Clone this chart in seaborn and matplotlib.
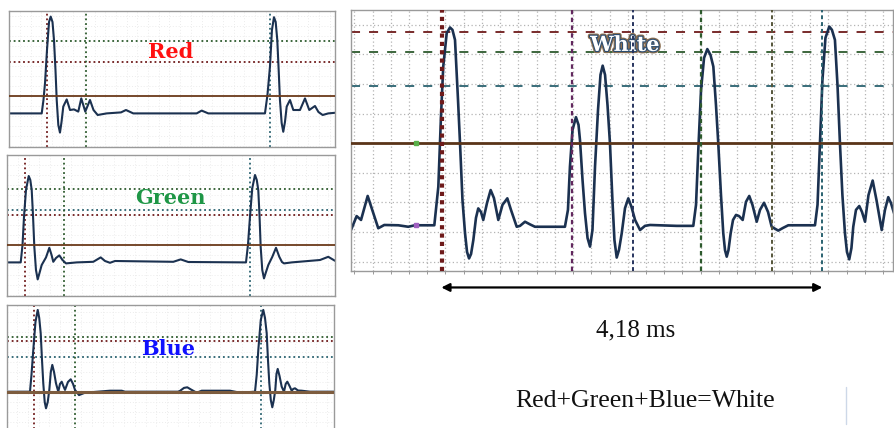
import numpy as np
import pandas as pd
import matplotlib
matplotlib.use("Agg")
import matplotlib.pyplot as plt
import matplotlib.patheffects as pe
from matplotlib.lines import Line2D
import seaborn as sns

sns.set_style("white")

# ---------------- data (time in ms, amplitude in divisions) ----------------
red_t = [0.0, 0.607, 0.640, 0.669, 0.706, 0.744, 0.775, 0.809, 0.837, 0.865, 0.888, 0.918, 0.949,
         0.978, 1.011, 1.075, 1.137, 1.212, 1.292, 1.348, 1.423, 1.511, 1.577, 1.655, 1.824, 2.092,
         2.185, 2.322, 3.509, 3.603, 3.727, 4.788, 4.835, 4.882, 4.919, 4.957, 4.989, 5.019, 5.045,
         5.069, 5.101, 5.131, 5.163, 5.195, 5.257, 5.319, 5.444, 5.538, 5.618, 5.725, 5.790, 5.869,
         5.974, 6.099]
red_a = [-0.87, -0.87, -0.20, 0.65, 2.30, 3.70, 3.97, 3.70, 2.80, 1.30, -0.20, -1.45, -1.83,
         -1.30, -0.53, -0.17, -0.70, -0.67, -0.78, -0.12, -0.78, -0.20, -0.70, -0.95, -0.87, -0.82,
         -0.70, -0.87, -0.87, -0.73, -0.87, -0.87, 0.05, 1.47, 3.30, 3.94, 3.70, 2.80, 1.30,
         -0.20, -1.35, -1.79, -1.30, -0.53, -0.20, -0.70, -0.70, -0.12, -0.70, -0.50, -0.80, -0.95,
         -0.87, -0.84]

green_t = [0.0, 0.251, 0.285, 0.313, 0.350, 0.401, 0.431, 0.457, 0.481, 0.506, 0.537, 0.569, 0.603,
           0.644, 0.725, 0.787, 0.829, 0.861, 0.912, 0.974, 1.034, 1.099, 1.300, 1.610, 1.749, 1.830,
           1.923, 2.017, 3.109, 3.247, 3.390, 4.470, 4.507, 4.545, 4.588, 4.639, 4.672, 4.700, 4.723,
           4.745, 4.775, 4.807, 4.845, 4.888, 4.963, 5.032, 5.094, 5.144, 5.182, 5.326, 5.856, 6.011,
           6.137]
green_a = [-0.87, -0.87, 0.0, 1.42, 2.75, 3.45, 3.25, 2.75, 1.50, -0.09, -1.25, -1.72, -1.40,
           -1.00, -0.62, -0.14, -0.50, -0.84, -0.65, -0.52, -0.75, -0.92, -0.87, -0.84, -0.62, -0.80,
           -0.89, -0.80, -0.84, -0.72, -0.85, -0.87, 0.0, 1.42, 2.85, 3.50, 3.25, 2.75, 1.50,
           -0.09, -1.25, -1.67, -1.35, -1.00, -0.59, -0.14, -0.59, -0.85, -0.92, -0.87, -0.75, -0.59,
           -0.79]

blue_t = [0.0, 0.436, 0.464, 0.498, 0.539, 0.581, 0.609, 0.637, 0.661, 0.685, 0.712, 0.736, 0.768,
          0.798, 0.826, 0.854, 0.886, 0.923, 0.966, 0.998, 1.030, 1.060, 1.092, 1.148, 1.199, 1.242,
          1.279, 1.354, 1.466, 1.934, 2.154, 2.215, 3.208, 3.245, 3.320, 3.382, 3.451, 3.558, 3.652,
          4.182, 4.369, 4.650, 4.682, 4.712, 4.758, 4.805, 4.837, 4.869, 4.893, 4.918, 4.946, 4.974,
          5.002, 5.030, 5.052, 5.075, 5.109, 5.150, 5.193, 5.225, 5.255, 5.296, 5.337, 5.367, 5.399,
          5.455, 5.524, 5.680, 6.135]
blue_a = [0.0, 0.0, 0.84, 2.09, 3.49, 4.09, 3.69, 2.92, 1.59, 0.42, -0.52, -0.83, -0.52,
          0.09, 0.99, 1.34, 0.99, 0.42, 0.0, 0.39, 0.50, 0.29, 0.09, 0.49, 0.62, 0.39,
          0.09, -0.17, -0.05, 0.05, 0.05, 0.0, 0.0, 0.04, 0.19, 0.22, 0.11, -0.05, 0.05,
          0.05, -0.05, 0.0, 0.84, 2.09, 3.59, 4.09, 3.69, 2.92, 1.59, 0.42, -0.42, -0.78,
          -0.42, 0.09, 0.89, 1.14, 0.79, 0.25, 0.0, 0.39, 0.50, 0.29, 0.05, 0.14, 0.17,
          0.06, 0.05, 0.0, 0.0]

white_t = [-0.036, 0.026, 0.074, 0.147, 0.208, 0.263, 0.329, 0.483, 0.592, 0.666, 0.878, 0.922, 0.951,
           0.976, 1.014, 1.050, 1.077, 1.105, 1.138, 1.160, 1.187, 1.215, 1.237, 1.259, 1.281, 1.306,
           1.335, 1.360, 1.390, 1.415, 1.456, 1.496, 1.532, 1.580, 1.626, 1.679, 1.719, 1.782, 1.818,
           1.873, 1.928, 1.982, 2.311, 2.344, 2.366, 2.394, 2.432, 2.460, 2.476, 2.504, 2.531, 2.559,
           2.586, 2.613, 2.641, 2.674, 2.701, 2.725, 2.751, 2.778, 2.805, 2.832, 2.854, 2.879, 2.904,
           2.934, 2.970, 3.006, 3.041, 3.080, 3.135, 3.189, 3.244, 3.537, 3.719, 3.749, 3.774, 3.804,
           3.837, 3.873, 3.908, 3.939, 3.968, 3.993, 4.023, 4.048, 4.067, 4.086, 4.105, 4.129, 4.155,
           4.188, 4.221, 4.261, 4.297, 4.333, 4.368, 4.415, 4.451, 4.495, 4.539, 4.579, 4.651, 4.703,
           4.761, 5.054, 5.082, 5.109, 5.136, 5.169, 5.211, 5.240, 5.273, 5.301, 5.328, 5.355, 5.383,
           5.405, 5.430, 5.454, 5.474, 5.504, 5.540, 5.570, 5.603, 5.641, 5.687, 5.729, 5.786, 5.822,
           5.858, 5.888, 5.921]
white_a = [-2.93, -2.46, -2.59, -1.78, -2.35, -2.87, -2.76, -2.77, -2.82, -2.77, -2.77, -1.47, 0.90,
           2.59, 3.72, 3.91, 3.83, 3.49, 1.46, 0.0, -1.92, -3.04, -3.67, -3.89, -3.74, -3.27,
           -2.52, -2.20, -2.32, -2.59, -2.02, -1.58, -1.85, -2.59, -2.08, -1.86, -2.25, -2.82, -2.79,
           -2.65, -2.74, -2.82, -2.82, -2.25, -0.79, 0.45, 0.88, 0.62, 0.11, -1.24, -2.36, -3.20,
           -3.49, -2.93, -0.79, 1.13, 2.31, 2.62, 2.31, 1.29, 0.0, -1.92, -3.27, -3.86, -3.60,
           -3.04, -2.19, -1.86, -2.15, -2.59, -2.93, -2.79, -2.76, -2.79, -2.79, -2.08, -0.23, 1.80,
           2.88, 3.18, 2.98, 2.59, 1.29, 0.0, -1.75, -3.04, -3.61, -3.83, -3.61, -3.04, -2.59,
           -2.42, -2.46, -2.59, -1.98, -1.78, -2.08, -2.65, -2.25, -2.01, -2.32, -2.82, -2.95, -2.86,
           -2.77, -2.77, -2.08, 0.0, 2.14, 3.56, 3.94, 3.83, 3.49, 1.97, 0.0, -1.75, -3.04,
           -3.67, -3.92, -3.54, -2.82, -2.25, -2.12, -2.32, -2.65, -1.75, -1.26, -1.92, -2.93, -2.25,
           -1.82, -2.02, -2.36]

# cursor levels / positions
red_hlines = [2.77, 1.70]
red_vlines = [0.700, 1.436, 4.882]
green_hlines = [2.79, 1.75, 1.50]
green_vlines = [0.331, 1.062, 4.545]
blue_hlines = [2.75, 2.55, 1.72]
blue_vlines = [0.517, 1.279, 4.762]
white_hlines = [3.77, 3.09, 1.94]
white_vlines = [0.959, 2.385, 3.054, 3.80, 4.579, 5.134]
period_start, period_end = 0.955, 5.135
period_label = "4,18 ms"
formula_label = "Red+Green+Blue=White"

# ---------------- styling ----------------
W, H = 894, 428
fig = plt.figure(figsize=(W / 100, H / 100), dpi=100)
fig.patch.set_facecolor("white")

TRACE = "#1b3150"
DRED = "#6e1a1a"
DGREEN = "#2d5a2d"
TEAL = "#2a6270"
NAVY = "#27345e"
PURPLE = "#62285e"
OLIVE = "#55553a"
BROWN = "#5a3418"


def add_ax(l, t, r, b):
    return fig.add_axes([l / W, 1 - b / H, (r - l) / W, (b - t) / H])


def frame(ax, xlim, ylim, xgrid, ygrid, gcolor, gls, glw):
    ax.set_xlim(*xlim)
    ax.set_ylim(*ylim)
    for x in xgrid:
        ax.axvline(x, color=gcolor, ls=gls, lw=glw, zorder=0)
    for y in ygrid:
        ax.axhline(y, color=gcolor, ls=gls, lw=glw, zorder=0)
    ax.set_xticks([])
    ax.set_yticks([])
    for s in ax.spines.values():
        s.set_color("#9a9a9a")
        s.set_linewidth(1.0)


def small_panel(ax, t, a, xlim, ylim, hlines, hcols, vlines, vcols, brown_col, brown_lw, label, lcol, lpos):
    frame(ax, xlim, ylim, np.arange(0.2, xlim[1], 0.2), np.arange(-2.5, ylim[1], 0.5),
          "#ececec", (0, (1, 2)), 0.7)
    for y, c in zip(hlines, hcols):
        ax.axhline(y, color=c, ls=(0, (1, 1.6)), lw=1.3, zorder=1)
    for x, c in zip(vlines, vcols):
        ax.axvline(x, color=c, ls=(0, (1, 1.6)), lw=1.3, zorder=1)
    df = pd.DataFrame({"t": t, "a": a})
    sns.lineplot(data=df, x="t", y="a", ax=ax, color=TRACE, lw=1.5, estimator=None, sort=False, zorder=2)
    ax.axhline(0, color=brown_col, lw=brown_lw, zorder=3)
    ax.text(lpos[0], lpos[1], label, color=lcol, fontsize=15, fontweight="heavy",
            family="DejaVu Serif", ha="center", va="center", zorder=4)
    ax.set_xlabel("")
    ax.set_ylabel("")


ax_r = add_ax(9.3, 11, 335, 146.7)
small_panel(ax_r, red_t, red_a, (0, 6.10), (-2.535, 4.25), red_hlines, [DGREEN, DRED],
            red_vlines, [DRED, DGREEN, TEAL], "#6b3a1a", 1.3, "Red", "#ff1010", (3.03, 2.21))

ax_g = add_ax(7.3, 155, 335, 295.7)
small_panel(ax_g, green_t, green_a, (0, 6.137), (-2.535, 4.5), green_hlines, [DGREEN, TEAL, DRED],
            green_vlines, [DRED, DGREEN, TEAL], "#6b3a1a", 1.3, "Green", "#1e9646", (3.05, 2.34))

ax_b = add_ax(6.7, 305, 334.3, 432)
small_panel(ax_b, blue_t, blue_a, (0, 6.135), (-2.015, 4.335), blue_hlines, [DGREEN, DRED, TEAL],
            blue_vlines, [DRED, DGREEN, TEAL], "#7d5c3e", 2.2, "Blue", "#1010ff", (3.02, 2.12))

# ---------------- white panel ----------------
ax_w = add_ax(351, 10, 893, 271)
frame(ax_w, (-0.036, 5.91), (-4.314, 4.50), np.arange(0, 5.9, 0.2), np.arange(-4, 5, 1),
      "#b4b4b4", (0, (1, 2)), 0.9)
for y, c in zip(white_hlines, [DRED, DGREEN, TEAL]):
    ax_w.axhline(y, color=c, ls=(0, (5, 5)), lw=1.3, zorder=1)
dfw = pd.DataFrame({"t": white_t, "a": white_a})
sns.lineplot(data=dfw, x="t", y="a", ax=ax_w, color=TRACE, lw=1.9, estimator=None, sort=False, zorder=2)
ax_w.axhline(0, color=BROWN, lw=2.0, zorder=3)
ax_w.plot([0.679], [0], marker="s", ms=3, color="#5ab04a", zorder=4)
ax_w.plot([0.679], [-2.76], marker="s", ms=3, color="#a060c0", zorder=4)
ax_w.text(2.97, 3.32, "White", color="white", fontsize=15, fontweight="heavy", family="DejaVu Serif",
          ha="center", va="center", zorder=4,
          path_effects=[pe.Stroke(linewidth=3.2, foreground="#8a6e50"),
                        pe.Stroke(linewidth=1.6, foreground="#2c4d70"), pe.Normal()])
vstyles = [(DRED, 3.0, (0, (1, 1))), (PURPLE, 1.6, (0, (2, 1.5))), (NAVY, 1.4, (0, (2, 1.5))),
           (DGREEN, 1.6, (0, (2, 1.5))), (OLIVE, 1.4, (0, (2, 1.5))), (TEAL, 1.4, (0, (2, 1.5)))]
for x, (c, lw, ls) in zip(white_vlines, vstyles):
    ax_w.axvline(x, color=c, lw=lw, ls=ls, zorder=5)
ax_w.set_xticks(np.arange(0, 5.9, 0.2))
ax_w.tick_params(axis="x", bottom=True, direction="out", length=2, width=0.6, color="#888888",
                 labelbottom=False)
ax_w.set_xlabel("")
ax_w.set_ylabel("")

# period arrow
ax_w.annotate("", xy=(period_end, -4.87), xytext=(period_start, -4.87),
              arrowprops=dict(arrowstyle="<|-|>", color="black", lw=1.6, mutation_scale=12,
                              shrinkA=0, shrinkB=0), annotation_clip=False)

fig.text(636 / W, 1 - 330 / H, period_label, fontsize=18, family="Liberation Serif",
         ha="center", va="center", color="#111111")
fig.text(645.5 / W, 1 - 401 / H, formula_label, fontsize=18.5, family="Liberation Serif",
         ha="center", va="center", color="#111111")
fig.add_artist(Line2D([846 / W, 846 / W], [1 - 387 / H, 1 - 424 / H], color="#cdd8e8", lw=1.0))

fig.savefig("out.png", dpi=100, facecolor="white")
